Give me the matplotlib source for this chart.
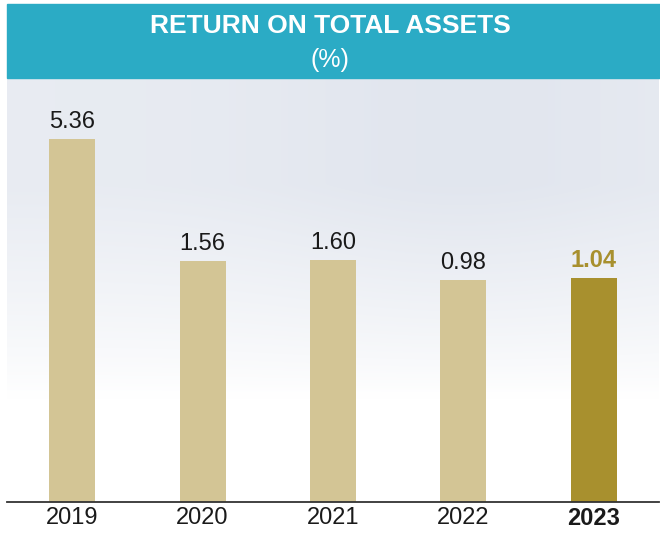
"""
Return on total assets (%) bar chart, 2019-2023.
"""

import matplotlib.pyplot as plt
import numpy as np
from matplotlib.patches import Rectangle

plt.rcParams['font.family'] = ['Liberation Sans', 'DejaVu Sans']

# data
years = ['2019', '2020', '2021', '2022', '2023']
roa = [5.36, 1.56, 1.60, 0.98, 1.04]
labels = ['5.36', '1.56', '1.60', '0.98', '1.04']

# styling
tan = '#d3c595'
olive = '#a8902e'
teal = '#2babc5'
base = -5.9   # the bars in the original do not start at zero

fig = plt.figure(figsize=(6.6, 5.34), dpi=100)
ax = fig.add_axes([7/660, 0.0605, 652/660, 0.794])

# soft sky-like background, grey-blue at the top fading to white
h, w = 200, 300
yy = np.linspace(0, 1, h)[:, None]      # 0 = bottom, 1 = top
xx = np.linspace(0, 1, w)[None, :]
top_col = np.array([0.885, 0.902, 0.935])
white = np.array([1.0, 1.0, 1.0])
t = np.clip((yy - 0.25) / 0.5, 0, 1) ** 0.8
t = t * (0.78 + 0.22 * np.exp(-((xx - 0.7) ** 2) / 0.1)) * np.ones_like(xx)
bg = white[None, None, :] * (1 - t[..., None]) + top_col[None, None, :] * t[..., None]
ax.imshow(bg, extent=(-0.5, 4.5, base, 7.26), aspect='auto', zorder=0,
          origin='lower', interpolation='bicubic')

x = np.arange(len(years))
colors = [tan] * 4 + [olive]
heights = [v - base for v in roa]
ax.bar(x, heights, bottom=base, width=0.353, color=colors, zorder=2)

for i, (v, lab) in enumerate(zip(roa, labels)):
    last = i == len(roa) - 1
    ax.annotate(lab, (x[i], v), xytext=(0, 8), textcoords='offset points',
                ha='center', va='baseline', fontsize=17,
                color=olive if last else '#1a1a1a',
                fontweight='bold' if last else 'normal')

ax.set_xlim(-0.5, 4.5)
ax.set_ylim(base, 7.26)
ax.set_xticks(x)
ax.set_xticklabels(years, fontsize=17, color='#1a1a1a')
ax.get_xticklabels()[-1].set_fontweight('bold')
ax.tick_params(axis='x', length=0, pad=4)
ax.set_yticks([])
for s in ['top', 'left', 'right']:
    ax.spines[s].set_visible(False)
ax.spines['bottom'].set_color('#333333')
ax.spines['bottom'].set_linewidth(1.3)
ax.spines['bottom'].set_zorder(3)

# header band
fig.patches.append(Rectangle((7/660, 0.854), 653/660, 74/534,
                             transform=fig.transFigure, color=teal, zorder=0))
fig.text(0.5, 0.9513, 'RETURN ON TOTAL ASSETS', ha='center', va='center',
         fontsize=19, fontweight='bold', color='white')
fig.text(0.5, 0.8876, '(%)', ha='center', va='center', fontsize=18,
         color='white')

fig.savefig('out.png', dpi=100)
